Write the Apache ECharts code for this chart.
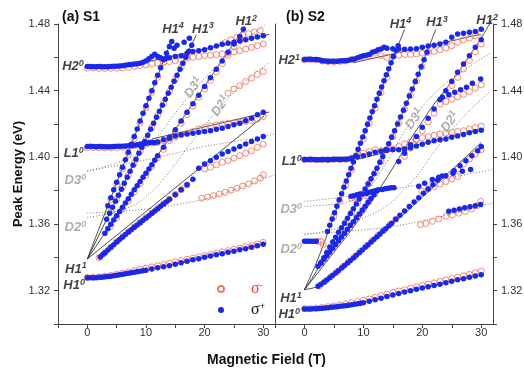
<!DOCTYPE html>
<html><head><meta charset="utf-8">
<script src="https://cdn.jsdelivr.net/npm/echarts@6/dist/echarts.min.js"></script>
<style>html,body{margin:0;padding:0;background:#fff}#c{width:524px;height:374px}</style>
</head><body><div id="c"></div><script>
// ---------------- tick labels ----------------
const yTickLabels = ['1.32','1.36','1.40','1.44','1.48'];
const xTickLabels = ['0','10','20','30'];
const legendNames = ['σ-','σ+'];
// ---------------- panel (a) S1 : [field T, energy eV] ----------------
const aH10p = [[0,1.3277],[0.5,1.3277],[1,1.3278],[1.5,1.3278],[2,1.328],[2.5,1.3281],[3,1.3283],[3.5,1.3285],[4,1.3287],[4.5,1.329],[5,1.3292],[5.5,1.3295],[6,1.3298],[6.5,1.3301],[7,1.3304],[7.5,1.3307],[8,1.331],[8.5,1.3313],[9,1.3316],[9.5,1.3319],[10,1.3322],[11,1.333],[12,1.3337],[13,1.3343],[14,1.335],[15,1.3359],[16,1.3368],[17,1.3377],[18,1.3385],[19,1.3392],[20,1.34],[21,1.3408],[22,1.3415],[23,1.3422],[24,1.343],[25,1.3437],[26,1.3445],[27,1.3452],[28,1.346],[29,1.3469],[30,1.3478]];
const aH10m = [[0,1.3279],[1,1.328],[2,1.3283],[3,1.3287],[4,1.3292],[5,1.3298],[6,1.3305],[7,1.3312],[8,1.332],[9,1.3328],[10,1.3335],[11,1.3343],[12,1.335],[13,1.3357],[14,1.3365],[15,1.3373],[16,1.338],[17,1.3388],[18,1.3395],[19,1.3403],[20,1.341],[21,1.3418],[22,1.3425],[23,1.3433],[24,1.344],[25,1.3448],[26,1.3455],[27,1.3463],[28,1.347],[29,1.348],[30,1.349]];
const aH11p = [[2.2,1.3402],[2.6,1.3415],[3,1.3428],[3.5,1.3444],[4,1.346],[4.5,1.3476],[5,1.3492],[5.5,1.3507],[6,1.3522],[6.5,1.3537],[7,1.3552],[7.5,1.3566],[8,1.358],[8.5,1.3594],[9,1.3608],[9.5,1.3622],[10,1.3636],[10.5,1.365],[11,1.3664],[11.5,1.3678],[12,1.3692],[12.5,1.3706],[13,1.372],[13.5,1.3734],[14,1.3748],[15,1.3776],[16,1.3805],[17,1.3835],[18,1.3868],[19,1.3935],[20,1.396],[21,1.398],[22,1.4],[23,1.402],[24,1.4035],[25,1.405],[26,1.4065],[27,1.408],[28,1.4095],[29,1.411],[30,1.4125]];
const aH11m = [[2,1.3398],[3,1.3428],[4,1.346],[5,1.3493],[6,1.3524],[7,1.3553],[8,1.3582],[9,1.361],[10,1.3638],[11,1.3666],[12,1.3694],[13,1.3722],[14,1.375],[15,1.3778],[16,1.3806],[17,1.3834],[20,1.393],[21,1.394],[22,1.3955],[23,1.397],[24,1.398],[25,1.3995],[26,1.401],[27,1.4025],[28,1.404],[29,1.406],[30,1.408]];
const aL10p = [[0,1.4065],[0.5,1.4066],[1,1.4065],[1.5,1.4064],[2,1.4065],[2.5,1.4065],[3,1.4064],[3.5,1.4063],[4,1.4064],[4.5,1.4065],[5,1.4066],[5.5,1.4066],[6,1.4067],[6.5,1.4068],[7,1.4069],[7.5,1.407],[8,1.4072],[8.5,1.4075],[9,1.4078],[9.5,1.4082],[10,1.4085],[10.5,1.4088],[11,1.409],[11.5,1.4088],[12,1.4092],[13,1.4105],[14,1.412],[15,1.4128],[16,1.4135],[17,1.414],[18,1.4145],[19,1.415],[20,1.4155],[21,1.416],[22,1.4168],[23,1.4175],[24,1.4185],[25,1.4195],[26,1.4205],[27,1.422],[28,1.4235],[29,1.4255],[30,1.427]];
const aL10m = [[0,1.4058],[1,1.4058],[2,1.4057],[3,1.4056],[4,1.4057],[5,1.4058],[6,1.406],[7,1.4063],[8,1.4068],[9,1.4075],[10,1.408],[11,1.4085],[12,1.409],[13,1.41],[14,1.411],[15,1.4122],[16,1.4135],[17,1.4145],[18,1.4155],[19,1.417],[20,1.418],[21,1.4188],[22,1.4195],[23,1.42],[24,1.4205],[25,1.4208],[26,1.421],[27,1.4215],[28,1.422],[29,1.423],[30,1.4245]];
const aH12p = [[3,1.3545],[3.5,1.3572],[4,1.3598],[4.5,1.3624],[5,1.365],[5.5,1.3675],[6,1.37],[6.5,1.3726],[7,1.3752],[7.5,1.3778],[8,1.3805],[8.5,1.383],[9,1.3855],[9.5,1.388],[10,1.3905],[10.5,1.393],[11,1.3955],[11.5,1.3982],[12,1.401],[13,1.406],[14,1.4115],[15,1.4165],[16,1.4218],[17,1.427],[18,1.4322],[19,1.4372],[20,1.4425],[21,1.4478],[22,1.4528],[23,1.4578],[24,1.463],[25,1.468],[26,1.4725],[26.6,1.4768]];
const aH12m = [[4,1.3585],[5,1.3638],[6,1.369],[7,1.374],[8,1.3792],[9,1.3842],[10,1.3893],[11,1.3945],[12,1.3998],[13,1.4048],[14,1.41],[15,1.4152],[16,1.4205],[17,1.4255],[18,1.4308],[19,1.436],[20,1.441],[21,1.4462],[22,1.4512],[23,1.4562],[24,1.4612],[25,1.4665],[26,1.4712]];
const aH13p = [[3.3,1.3628],[3.8,1.3664],[4.3,1.37],[4.8,1.3736],[5.3,1.3772],[5.8,1.3808],[6.3,1.3844],[6.8,1.388],[7.3,1.3916],[7.8,1.3952],[8.3,1.3988],[8.8,1.4025],[9.3,1.406],[9.8,1.4095],[10.3,1.4132],[10.8,1.4168],[11.3,1.4205],[11.8,1.424],[12.3,1.4276],[12.8,1.4312],[13.3,1.4348],[13.8,1.4385],[14.3,1.442],[14.8,1.4456],[15.3,1.4492],[15.8,1.4528],[16.3,1.4565],[16.8,1.46],[17.3,1.4636],[17.8,1.4672]];
const aH13m = [[4,1.3675],[5,1.3748],[6,1.382],[7,1.3892],[8,1.3964],[9,1.4036],[10,1.4108],[11,1.418],[12,1.4252],[13,1.4324],[14,1.4396],[15,1.4468],[16,1.454],[17,1.4612]];
const aH14p = [[3.5,1.371],[4,1.3758],[4.5,1.3805],[5,1.385],[5.5,1.3895],[6,1.394],[6.5,1.3985],[7,1.403],[7.5,1.4078],[8,1.4125],[8.5,1.417],[9,1.4218],[9.5,1.4265],[10,1.431],[10.5,1.4355],[11,1.44],[11.5,1.4448],[12,1.4492],[12.5,1.4538],[13,1.4585],[13.5,1.4625],[14,1.4665],[14.4,1.4695]];
const aH14m = [[4,1.3745],[5,1.3838],[6,1.393],[7,1.402],[8,1.4112],[9,1.4205],[10,1.4298],[11,1.439],[12,1.448],[13,1.457]];
const aH20p = [[0,1.4545],[0.5,1.4545],[1,1.4544],[1.5,1.4544],[2,1.4545],[2.5,1.4544],[3,1.4543],[3.5,1.4544],[4,1.4545],[4.5,1.4546],[5,1.4547],[5.5,1.4548],[6,1.455],[6.5,1.4552],[7,1.4555],[7.5,1.4557],[8,1.456],[8.5,1.4562],[9,1.4565],[9.5,1.457],[10,1.4578],[10.5,1.4592],[11,1.4605],[11.5,1.4618],[12,1.4605],[12.5,1.4598],[13,1.459],[13.5,1.4595],[14,1.4598],[15,1.4605],[16,1.461],[17,1.4625],[18,1.4635],[19,1.464],[20,1.4645],[21,1.4658],[22,1.4668],[23,1.4678],[24,1.4685],[25,1.469],[26,1.4698],[27,1.4705],[28,1.4715],[29,1.4722],[30,1.473]];
const aH2Xp = [[14.8,1.4655],[15.3,1.4672],[16.5,1.469],[17.4,1.4715]];
const aH20m = [[0,1.4535],[1,1.4535],[2,1.4534],[3,1.4533],[4,1.4534],[5,1.4535],[6,1.4537],[7,1.454],[8,1.4545],[9,1.455],[10,1.4555],[11,1.456],[12,1.4565],[13,1.457],[14,1.4575],[15,1.458],[16,1.4588],[17,1.4595],[18,1.46],[19,1.4605],[20,1.461],[21,1.4612],[22,1.4615],[23,1.462],[24,1.4625],[25,1.4632],[26,1.464],[27,1.465],[28,1.466],[29,1.467],[30,1.468]];
const aH2Um = [[23.5,1.4688],[24.5,1.4705],[25.5,1.472],[26.5,1.4732],[27.5,1.4742],[28.5,1.4752],[29.5,1.476]];
const aD21m = [[24,1.4385],[25,1.441],[26,1.443],[27,1.4455],[28,1.4475],[29,1.4498],[30,1.4515]];
const aD20m = [[19.5,1.3755],[20.5,1.3762],[21.5,1.377],[22.5,1.378],[23.5,1.379],[24.5,1.3803],[25.5,1.3815],[26.5,1.3828],[27.5,1.384],[28.5,1.3858],[29.5,1.3875],[30,1.3895]];
// fits (a)
const aFitH14 = [[0,1.339],[14.4,1.4707]];
const aFitH13 = [[0,1.339],[18.6,1.4735]];
const aFitH12 = [[0,1.339],[26.9,1.4785]];
const aFitH11 = [[0,1.339],[30.2,1.425]];
const aFitH2 = [[10,1.4572],[31,1.4738]];
const aFitL1 = [[11,1.411],[31,1.4272]];
const aFitH10 = [[3,1.3284],[8,1.331],[14,1.335],[20,1.3398],[26,1.3445],[30,1.3477]];
const aDotD30 = [[0,1.392],[5,1.395],[10,1.3985],[15,1.4025],[20,1.4065],[25,1.4095],[30,1.4125],[32,1.414]];
const aDotD31 = [[0,1.3915],[4,1.3955],[8,1.401],[11,1.4085],[13,1.417],[15,1.4265],[17,1.4355],[19,1.4435],[21,1.451],[23,1.458],[25,1.4645],[27,1.4705],[29,1.476],[30.5,1.48]];
const aDotD20 = [[0,1.3665],[5,1.3675],[10,1.369],[15,1.3715],[20,1.375],[25,1.3805],[30,1.387],[32,1.3895]];
const aDotD21 = [[0,1.364],[4,1.3665],[8,1.3715],[11,1.3795],[13,1.387],[15,1.396],[17,1.4055],[19,1.4145],[21,1.4235],[23,1.4315],[25,1.439],[27,1.4455],[29,1.4515],[31,1.457]];
// ---------------- panel (b) S2 ----------------
const bH10p = [[0,1.309],[0.5,1.309],[1,1.309],[1.5,1.3091],[2,1.3092],[2.5,1.3093],[3,1.3095],[3.5,1.3096],[4,1.3098],[4.5,1.31],[5,1.3102],[5.5,1.3104],[6,1.3106],[6.5,1.3108],[7,1.311],[7.5,1.3113],[8,1.3116],[8.5,1.3119],[9,1.3122],[9.5,1.3125],[10,1.3128],[11,1.3136],[12,1.3145],[13,1.3155],[14,1.3165],[15,1.3174],[16,1.3183],[17,1.3192],[18,1.32],[19,1.3208],[20,1.3216],[21,1.3223],[22,1.3231],[23,1.3239],[24,1.3248],[25,1.3256],[26,1.3265],[27,1.3272],[28,1.328],[29,1.3288],[30,1.3296]];
const bH10m = [[0,1.3092],[1,1.3093],[2,1.3095],[3,1.3099],[4,1.3104],[5,1.3109],[6,1.3115],[7,1.3121],[8,1.3128],[9,1.3135],[10,1.3142],[11,1.315],[12,1.316],[13,1.317],[14,1.318],[15,1.3189],[16,1.3198],[17,1.3206],[18,1.3215],[19,1.3223],[20,1.3231],[21,1.3239],[22,1.3247],[23,1.3256],[24,1.3265],[25,1.3273],[26,1.3281],[27,1.329],[28,1.3298],[29,1.3308],[30,1.3318]];
const bH11p = [[2.3,1.3226],[2.8,1.3238],[3.3,1.3251],[3.8,1.3264],[4.3,1.3278],[4.8,1.3292],[5.3,1.3306],[5.8,1.3321],[6.3,1.3336],[6.8,1.3351],[7.3,1.3366],[7.8,1.3381],[8.3,1.3396],[8.8,1.3412],[9.3,1.3428],[9.8,1.3444],[10.3,1.346],[10.8,1.3476],[11.3,1.3492],[11.8,1.3508],[12.3,1.3524],[12.8,1.354],[13.3,1.3556],[13.8,1.3572],[14.3,1.3588],[14.8,1.3604],[15.5,1.3628],[16.2,1.3652],[17,1.3678],[17.8,1.3705],[18.6,1.3732],[19.4,1.3758],[20.2,1.3784],[21,1.381],[21.8,1.3836],[22.6,1.3862],[23.4,1.3888],[25.4,1.392],[26.4,1.395],[27.4,1.398],[28.4,1.401],[29.4,1.404],[30,1.4065]];
const bH11m = [[2.5,1.3228],[3.5,1.3256],[4.5,1.3285],[5.5,1.3314],[6.5,1.3344],[7.5,1.3374],[8.5,1.3404],[9.5,1.3436],[10.5,1.3468],[11.5,1.35],[12.5,1.3532],[13.5,1.3564],[14.5,1.3596],[15.5,1.3628],[26,1.393],[27,1.396],[28,1.399],[29,1.402],[30,1.4045]];
const bH12p = [[2.3,1.3346],[2.8,1.3366],[3.3,1.3388],[3.8,1.341],[4.3,1.3432],[4.8,1.3455],[5.3,1.3477],[5.8,1.35],[6.3,1.3522],[6.8,1.3545],[7.3,1.3568],[7.8,1.3591],[8.3,1.3614],[8.8,1.3637],[9.3,1.366],[9.8,1.3683],[10.3,1.3706],[10.8,1.373],[11.3,1.3753],[11.8,1.3776],[12.3,1.38],[16,1.3975],[17,1.4025],[18,1.4075],[19,1.4125],[20,1.418],[21,1.4235],[22,1.429],[23,1.4345],[24,1.44],[25,1.4455],[26,1.451],[27,1.456],[28,1.461],[29,1.466],[30,1.4705]];
const bH12m = [[3,1.3372],[4,1.3415],[5,1.346],[6,1.3505],[7,1.355],[8,1.3596],[9,1.3642],[10,1.3688],[11,1.3735],[12,1.378],[17,1.4005],[18,1.4055],[19,1.4105],[20,1.416],[21,1.4212],[22,1.4265],[23,1.432],[24,1.4375],[25,1.443],[26,1.448],[27,1.453],[28,1.4582],[29,1.4632],[30,1.468]];
const bH12Xp = [[23.4,1.436],[24.5,1.4375],[25.5,1.439],[26.5,1.4405],[27.5,1.442],[28.5,1.4445],[29.9,1.447]];
const bH12Xm = [[24,1.4335],[25,1.4348],[26,1.4362],[27,1.4378],[28,1.4395],[29,1.4415],[30,1.4435]];
const bH13p = [[2.8,1.3368],[3.3,1.3397],[3.8,1.3428],[4.3,1.3462],[4.8,1.3492],[5.3,1.352],[5.8,1.355],[6.3,1.3578],[6.8,1.3605],[7.3,1.3635],[7.8,1.3663],[8.3,1.3692],[8.8,1.372],[9.3,1.375],[9.8,1.378],[10.3,1.381],[10.8,1.384],[11.3,1.3872],[11.8,1.3902],[12.3,1.3935],[12.8,1.397],[13.3,1.4005],[13.8,1.4045],[14.3,1.4082],[14.8,1.412],[15.3,1.416],[15.8,1.42],[16.3,1.4242],[16.8,1.4283],[17.3,1.4325],[17.8,1.4368],[18.3,1.441],[18.8,1.4455],[19.3,1.4498],[19.8,1.4543],[20.3,1.4585],[20.8,1.463]];
const bH13m = [[4,1.3435],[5,1.3492],[6,1.3552],[7,1.361],[8,1.3668],[9,1.3726],[10,1.3785],[11,1.3845],[12,1.3908],[13,1.3975],[14,1.4048],[15,1.4125],[16,1.4205],[17,1.4288],[18,1.4372],[19,1.4458],[20,1.4545]];
const bH14p = [[3.9,1.3555],[4.3,1.3592],[4.7,1.363],[5.1,1.3668],[5.5,1.3706],[5.9,1.3745],[6.3,1.3782],[6.7,1.382],[7.1,1.3858],[7.5,1.3896],[7.9,1.3935],[8.3,1.3972],[8.7,1.401],[9.1,1.4048],[9.5,1.4085],[9.9,1.4122],[10.3,1.416],[10.7,1.4198],[11.1,1.4236],[11.5,1.4273],[11.9,1.431],[12.3,1.4348],[12.7,1.4385],[13.1,1.4422],[13.5,1.446],[13.9,1.4495],[14.3,1.4532],[14.7,1.4568],[15.1,1.4605],[15.5,1.4642],[15.9,1.467]];
const bH14m = [[5,1.3645],[6,1.3738],[7,1.3832],[8,1.3925],[9,1.4018],[10,1.411],[11,1.4202],[12,1.4295],[13,1.4388],[14,1.448]];
const bH21p = [[0,1.4587],[0.5,1.4588],[1,1.4588],[1.5,1.4587],[2,1.4587],[2.5,1.4585],[3,1.458],[3.5,1.4578],[4,1.4577],[4.5,1.4576],[5,1.4577],[5.5,1.4577],[6,1.4578],[6.5,1.4579],[7,1.458],[7.5,1.4583],[8,1.4587],[8.5,1.459],[9,1.4597],[9.5,1.4603],[10,1.461],[10.5,1.4612],[11,1.4617],[11.5,1.463],[12,1.4635],[12.5,1.4645],[13,1.465],[13.5,1.466],[14,1.4655],[15,1.4652],[16,1.465],[17,1.4648],[18,1.465],[19,1.4652],[20,1.466],[21,1.4668],[22,1.4672],[23,1.468],[24,1.469],[25,1.472],[26,1.474],[27,1.4745],[28,1.475],[29,1.4755],[30,1.4768]];
const bH21m = [[0,1.4585],[1,1.4586],[2,1.4584],[3,1.4578],[4,1.4574],[5,1.4573],[6,1.4575],[7,1.4578],[8,1.4588],[9,1.459],[10,1.4605],[11,1.461],[12,1.4625],[13,1.461],[14,1.46],[15,1.4605],[16,1.4612],[17,1.4617],[18,1.4617],[19,1.462],[20,1.4625],[21,1.463],[22,1.4635],[23,1.4645],[24,1.4655],[25,1.467],[26,1.469],[27,1.4705],[28,1.4715],[29,1.473],[30,1.4748]];
const bL10p = [[0,1.3987],[0.5,1.3987],[1,1.3988],[1.5,1.3987],[2,1.3986],[2.5,1.3986],[3,1.3987],[3.5,1.3987],[4,1.3986],[4.5,1.3987],[5,1.3988],[5.5,1.3988],[6,1.3987],[6.5,1.3988],[7,1.3988],[7.5,1.399],[8,1.3995],[9,1.4003],[10,1.401],[11,1.402],[12,1.403],[13,1.4037],[14,1.4043],[15,1.4047],[16,1.4045],[17,1.405],[18,1.4058],[19,1.4068],[20,1.4078],[21,1.409],[22,1.41],[23,1.4105],[24,1.411],[25,1.412],[26,1.4128],[27,1.4137],[28,1.4147],[29,1.4155],[30,1.4163]];
const bL10m = [[0,1.3985],[1,1.3985],[2,1.3984],[3,1.3985],[4,1.3985],[5,1.3986],[6,1.3986],[7,1.3987],[8,1.3995],[9,1.401],[10,1.4025],[11,1.4035],[12,1.4045],[13,1.404],[14,1.4045],[15,1.405],[16,1.4065],[17,1.408],[18,1.4095],[19,1.411],[20,1.4118],[21,1.4125],[22,1.4132],[23,1.414],[24,1.4145],[25,1.415],[26,1.4155],[27,1.416],[28,1.417],[29,1.4178],[30,1.4187]];
const bD3p = [[7.9,1.3767],[8.4,1.377],[8.9,1.3775],[9.4,1.378],[10.5,1.3782],[11,1.379],[11.5,1.3795],[12,1.38],[12.5,1.3805],[13.2,1.3807],[13.7,1.3812],[14.2,1.3815],[14.7,1.3817],[15.2,1.3817],[19.4,1.3827],[20.4,1.3845],[21.7,1.3867],[22.8,1.388],[24,1.389],[25.2,1.3905],[26.8,1.3917],[28.2,1.3927]];
const bD3m = [[8,1.3755],[8.6,1.376],[9.5,1.3765],[10.5,1.377],[19.9,1.3797],[21,1.381],[22,1.3825],[23,1.384],[24,1.3855],[25,1.387],[26,1.3885]];
const bD20p = [[0,1.3496],[0.4,1.3497],[0.8,1.3497],[1.2,1.3496],[1.6,1.3496],[2,1.3497],[24.5,1.3676],[25.4,1.3683],[26.3,1.369],[27.2,1.3697],[28.1,1.3704],[29,1.371],[29.9,1.3717]];
const bD20m = [[2.3,1.3496],[2.8,1.3495],[3.2,1.3476],[19.7,1.3596],[20.6,1.3603],[21.7,1.3616],[22.8,1.363],[24,1.3646],[25.1,1.3655],[26.2,1.3665],[27.3,1.3676],[28.4,1.369],[29.3,1.371],[29.9,1.3736]];
// fits (b)
const bFitH14 = [[0,1.3206],[2,1.3365],[4,1.355],[6,1.3745],[8,1.3935],[10,1.4125],[12,1.431],[14,1.4495],[16,1.468],[17,1.4768]];
const bFitH13 = [[0,1.3206],[2,1.3315],[4,1.3445],[6,1.356],[8,1.3675],[10,1.379],[12,1.3915],[14,1.406],[16,1.4215],[18,1.438],[20,1.456],[22.3,1.4768]];
const bFitH12 = [[0,1.3206],[2,1.3295],[4,1.3385],[6,1.3475],[8,1.3565],[10,1.3665],[12,1.377],[14,1.388],[16,1.3995],[18,1.411],[20,1.4215],[22,1.432],[24,1.441],[26,1.4505],[28,1.461],[30,1.4715],[31.9,1.483]];
const bFitH11 = [[0,1.3206],[2,1.3222],[4,1.3262],[6,1.3318],[8,1.3382],[10,1.3446],[12,1.3508],[14,1.357],[16,1.3632],[18,1.3695],[20,1.376],[22,1.3825],[24,1.3892],[26,1.3958],[28,1.4022],[30,1.4089]];
const bFitH2 = [[8.2,1.4567],[29.9,1.4738]];
const bFitL1 = [[8.8,1.3987],[29.9,1.4167]];
const bFitH10 = [[3,1.3095],[10,1.3128],[16,1.3183],[22,1.3231],[30,1.3296]];
const bDotD30 = [[0,1.3736],[5,1.3755],[10,1.378],[15,1.381],[20,1.384],[25,1.388],[32,1.3927]];
const bDotD31 = [[0,1.3706],[4,1.3715],[8,1.374],[11,1.382],[14,1.3975],[17,1.4155],[20,1.4305],[24,1.4445],[28,1.4545],[31.5,1.4625]];
const bDotD20 = [[0,1.354],[5,1.355],[10,1.3565],[15,1.3585],[20,1.362],[25,1.366],[32,1.3727]];
const bDotD21 = [[0,1.3535],[5,1.357],[10,1.3635],[14,1.371],[17,1.381],[19.5,1.3905],[22,1.4035],[25,1.4165],[28,1.428],[31.5,1.4395]];
// ---------------- annotations: [T, E, text, superscript] ----------------
const aNotesLeft = [[-0.6,1.4545,'H2','0'],[-0.6,1.4025,'L1','0'],[-0.1,1.333,'H1','1'],[-0.4,1.323,'H1','0']];
const aNotesLeftGray = [[-0.2,1.386,'D3','0'],[-0.2,1.358,'D2','0']];
const aNotesTop = [[14.6,1.477,'H1','4'],[19.7,1.477,'H1','3'],[27.1,1.4815,'H1','2']];
const aNotesRot = [[18.1,1.4417,'D3','1'],[22.7,1.4307,'D2','1']];
const bNotesLeft = [[-0.75,1.458,'H2','1'],[-0.45,1.3975,'L1','0'],[-0.45,1.3152,'H1','1'],[-0.75,1.3056,'H1','0']];
const bNotesLeftGray = [[-0.4,1.3686,'D3','0'],[-0.4,1.3446,'D2','0']];
const bNotesTop = [[16.3,1.48,'H1','4'],[22.5,1.481,'H1','3'],[31,1.482,'H1','2']];
const bNotesRot = [[18.7,1.4229,'D3','1'],[24.7,1.4213,'D2','1']];

// ---------------- styling / assembly ----------------
const BLUE = '#1a28e8', RED = '#f07a68', FONT = 'Liberation Sans, Arial, sans-serif';
function plus(data, g) { return {type:'scatter', name:'σ+', xAxisIndex:g, yAxisIndex:g, data:data, symbol:'circle', symbolSize:5.5, itemStyle:{color:BLUE, opacity:1}, z:5, silent:true, clip:false}; }
function minus(data, g) { return {type:'scatter', name:'σ-', xAxisIndex:g, yAxisIndex:g, data:data, symbol:'circle', symbolSize:6, itemStyle:{color:'rgba(255,255,255,0)', borderColor:RED, borderWidth:0.9, opacity:1}, z:4, silent:true, clip:false}; }
function fit(data, g, sm) { return {type:'line', xAxisIndex:g, yAxisIndex:g, data:data, symbol:'none', smooth:sm||false, lineStyle:{color:'#222', width:0.8}, z:3, silent:true, clip:false}; }
function dot(data, g) { return {type:'line', xAxisIndex:g, yAxisIndex:g, data:data, symbol:'none', smooth:0.4, lineStyle:{color:'#777', width:1, type:[1,2]}, z:2, silent:true}; }
const richK = {m:{fontFamily:FONT, fontSize:13, fontWeight:'bold', fontStyle:'italic', color:'#111', lineHeight:15}, s:{fontFamily:FONT, fontSize:9, fontWeight:'bold', fontStyle:'italic', color:'#111', verticalAlign:'top', lineHeight:9}};
const richG = {m:Object.assign({}, richK.m, {color:'#9a9a9a'}), s:Object.assign({}, richK.s, {color:'#9a9a9a'})};
function notes(data, g, rich, align, rot) {
  return {type:'scatter', xAxisIndex:g, yAxisIndex:g, data:data, symbolSize:1, itemStyle:{color:'rgba(0,0,0,0)'}, z:8, silent:true, clip:false,
    label:{show:true, position:'inside', align:align, verticalAlign:'middle', rotate:rot||0,
      formatter:function(p){return '{m|'+p.data[2]+'}{s|'+p.data[3]+'}';}, rich:rich}};
}
function yLab(v){ const s=v.toFixed(2); return yTickLabels.indexOf(s)>=0 ? s : ''; }
function xLab(v){ const s=String(Math.round(v)); return (Math.abs(v-Math.round(v))<1e-6 && xTickLabels.indexOf(s)>=0) ? s : ''; }
const axisCol = '#444';
function xAx(g){ return {type:'value', gridIndex:g, min:-5, max:32, interval:5, axisLine:{lineStyle:{color:axisCol, width:1}}, axisTick:{inside:false, length:4, lineStyle:{color:axisCol}}, splitLine:{show:false}, axisLabel:{formatter:xLab, margin:3, color:'#333', fontSize:11, fontFamily:FONT, showMaxLabel:false}}; }
function yAx(g, pos, show){ return {type:'value', gridIndex:g, position:pos, min:1.30, max:1.48, interval:0.02, axisLine:{show:true, onZero:false, lineStyle:{color:axisCol, width:1}}, axisTick:{show:show, inside:false, length:4, lineStyle:{color:axisCol}}, splitLine:{show:false}, axisLabel:{show:show, formatter:yLab, margin:8, color:'#333', fontSize:11, fontFamily:FONT}}; }

const series = [
  dot(aDotD30,0), dot(aDotD31,0), dot(aDotD20,0), dot(aDotD21,0),
  fit(aFitH14,0), fit(aFitH13,0), fit(aFitH12,0), fit(aFitH11,0), fit(aFitH2,0), fit(aFitL1,0), fit(aFitH10,0,0.3),
  minus(aH10m,0), minus(aH11m,0), minus(aL10m,0), minus(aH12m,0), minus(aH13m,0), minus(aH14m,0), minus(aH20m,0), minus(aH2Um,0), minus(aD21m,0), minus(aD20m,0),
  plus(aH10p,0), plus(aH11p,0), plus(aL10p,0), plus(aH12p,0), plus(aH13p,0), plus(aH14p,0), plus(aH20p,0), plus(aH2Xp,0),
  notes(aNotesLeft,0,richK,'right'), notes(aNotesLeftGray,0,richG,'right'), notes(aNotesTop,0,richK,'center'), notes(aNotesRot,0,richG,'center',55),
  dot(bDotD30,1), dot(bDotD31,1), dot(bDotD20,1), dot(bDotD21,1),
  fit(bFitH14,1,0.3), fit(bFitH13,1,0.3), fit(bFitH12,1,0.3), fit(bFitH11,1,0.3), fit(bFitH2,1), fit(bFitL1,1), fit(bFitH10,1,0.3),
  minus(bH10m,1), minus(bH11m,1), minus(bH12m,1), minus(bH12Xm,1), minus(bH13m,1), minus(bH14m,1), minus(bH21m,1), minus(bL10m,1), minus(bD3m,1), minus(bD20m,1),
  plus(bH10p,1), plus(bH11p,1), plus(bH12p,1), plus(bH12Xp,1), plus(bH13p,1), plus(bH14p,1), plus(bH21p,1), plus(bL10p,1), plus(bD3p,1), plus(bD20p,1),
  notes(bNotesLeft,1,richK,'right'), notes(bNotesLeftGray,1,richG,'right'), notes(bNotesTop,1,richK,'center'), notes(bNotesRot,1,richG,'center',55)
];

const option = {
  animation:false, backgroundColor:'#fff',
  title:[
    {text:'(a) S1', left:57, top:5, textStyle:{fontFamily:FONT, fontSize:14, fontWeight:'bold', color:'#111'}},
    {text:'(b) S2', left:281, top:5, textStyle:{fontFamily:FONT, fontSize:14, fontWeight:'bold', color:'#111'}},
    {text:'Magnetic Field (T)', left:202, top:348, textStyle:{fontFamily:FONT, fontSize:14, fontWeight:'bold', color:'#111'}}
  ],
  legend:{data:legendNames, orient:'vertical', left:212, top:276, itemWidth:6, itemHeight:6, itemGap:5,
    formatter:function(n){ return n==='σ-' ? '{r|σ}{rs|-}' : '{b|σ}{bs|+}'; },
    textStyle:{rich:{
      r:{fontFamily:'Liberation Serif, serif', fontSize:16, color:'#e8402a', padding:[0,0,0,22], lineHeight:16},
      rs:{fontFamily:FONT, fontSize:9, color:'#e8402a', verticalAlign:'top', lineHeight:9},
      b:{fontFamily:'Liberation Serif, serif', fontSize:16, color:'#111', padding:[0,0,0,22], lineHeight:16},
      bs:{fontFamily:FONT, fontSize:9, color:'#111', verticalAlign:'top', lineHeight:9}}}},
  grid:[
    {left:58, top:24, width:217, height:300, outerBoundsMode:'none'},
    {left:275, top:24, width:218, height:300, outerBoundsMode:'none'}
  ],
  xAxis:[xAx(0), xAx(1)],
  yAxis:[
    Object.assign(yAx(0,'left',true), {name:'Peak Energy (eV)', nameLocation:'middle', nameRotate:90, nameGap:33, nameTextStyle:{fontFamily:FONT, fontSize:13, fontWeight:'bold', color:'#111'}}),
    yAx(1,'right',true),
    yAx(1,'left',false)
  ],
  series:series
};
const chart = echarts.init(document.getElementById('c'), null, {renderer:'canvas'});
chart.setOption(option);
</script></body></html>
